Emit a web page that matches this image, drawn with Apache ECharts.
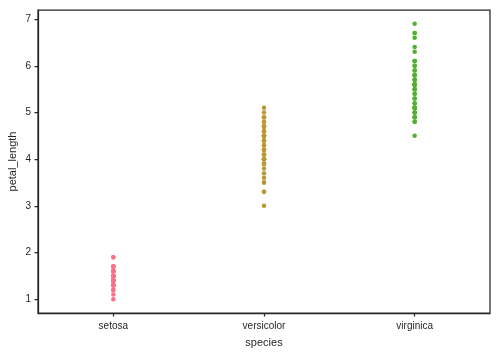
<!DOCTYPE html>
<html><head><meta charset="utf-8">
<script src="https://cdn.jsdelivr.net/npm/echarts@6/dist/echarts.min.js"></script>
<style>html,body{margin:0;padding:0;background:#fff}#c{width:500px;height:354px}</style>
</head><body><div id="c"></div>
<script>
var categories = ['setosa', 'versicolor', 'virginica'];
var setosa = [1.4,1.4,1.3,1.5,1.4,1.7,1.4,1.5,1.4,1.5,1.5,1.6,1.4,1.1,1.2,1.5,1.3,1.4,1.7,1.5,1.7,1.5,1.0,1.7,1.9,1.6,1.6,1.5,1.4,1.6,1.6,1.5,1.5,1.4,1.5,1.2,1.3,1.5,1.3,1.5,1.3,1.3,1.3,1.6,1.9,1.4,1.6,1.4,1.5,1.4];
var versicolor = [4.7,4.5,4.9,4.0,4.6,4.5,4.7,3.3,4.6,3.9,3.5,4.2,4.0,4.7,3.6,4.4,4.5,4.1,4.5,3.9,4.8,4.0,4.9,4.7,4.3,4.4,4.8,5.0,4.5,3.5,3.8,3.7,3.9,5.1,4.5,4.5,4.7,4.4,4.1,4.0,4.4,4.6,4.0,3.3,4.2,4.2,4.2,4.3,3.0,4.1];
var virginica = [6.0,5.1,5.9,5.6,5.8,6.6,4.5,6.3,5.8,6.1,5.1,5.3,5.5,5.0,5.1,5.3,5.5,6.7,6.9,5.0,5.7,4.9,6.7,4.9,5.7,6.0,4.8,4.9,5.6,5.8,6.1,6.4,5.6,5.1,5.6,6.1,5.6,5.5,4.8,5.4,5.6,5.1,5.1,5.9,5.7,5.2,5.0,5.2,5.4,5.1];
var yTicks = [1, 2, 3, 4, 5, 6, 7];
var colors = ['#f77189', '#bb9832', '#50b131'];

var groups = [setosa, versicolor, virginica];
var chart = echarts.init(document.getElementById('c'), null, {renderer: 'canvas'});
var txt = '#262626';
var font = 'Liberation Sans, Arial, sans-serif';
chart.setOption({
  animation: false,
  grid: {left: 38, right: 10, top: 10, bottom: 41, show: true, borderColor: '#262626', borderWidth: 1.25,
         containLabel: false, outerBoundsMode: 'none'},
  xAxis: {
    type: 'category', data: categories, boundaryGap: true,
    name: 'species', nameLocation: 'middle', nameGap: 24, nameMoveOverlap: false,
    nameTextStyle: {color: txt, fontSize: 11, fontFamily: font},
    axisLine: {show: true, lineStyle: {color: '#262626', width: 1.25}},
    axisTick: {show: true, alignWithLabel: true, length: 3.5, lineStyle: {color: '#262626', width: 1.25}},
    axisLabel: {color: txt, fontSize: 10, fontFamily: font, margin: 8},
    splitLine: {show: false}
  },
  yAxis: {
    type: 'value', min: 0.705, max: 7.195,
    name: 'petal_length', nameLocation: 'middle', nameGap: 20, nameMoveOverlap: false,
    nameTextStyle: {color: txt, fontSize: 11, fontFamily: font},
    axisLine: {show: true, lineStyle: {color: '#262626', width: 1.25}},
    axisTick: {show: true, customValues: yTicks, length: 3.5, lineStyle: {color: '#262626', width: 1.25}},
    axisLabel: {color: txt, fontSize: 10, fontFamily: font, margin: 7, customValues: yTicks},
    splitLine: {show: false}
  },
  series: groups.map(function (g, i) {
    return {
      type: 'scatter', symbol: 'circle', symbolSize: 4.5,
      itemStyle: {color: colors[i], opacity: 1},
      data: g.map(function (v) { return [categories[i], v]; })
    };
  })
});
</script></body></html>
